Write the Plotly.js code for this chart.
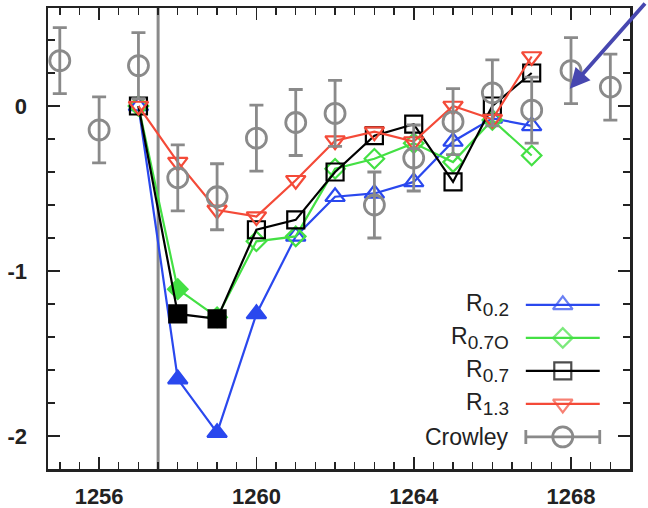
<!DOCTYPE html>
<html>
<head>
<meta charset="utf-8">
<script src="https://cdn.plot.ly/plotly-3.0.1.min.js"></script>
<style>html,body{margin:0;padding:0;background:#fff;}#chart{width:648px;height:508px;}</style>
</head>
<body>
<div id="chart"></div>
<script>
// ---- data ----
const years = [1257, 1258, 1259, 1260, 1261, 1262, 1263, 1264, 1265, 1266, 1267];
const r02  = [0, -1.655, -1.98, -1.26, -0.79, -0.55, -0.53, -0.46, -0.215, -0.075, -0.12];
const r07O = [0, -1.11, -1.28, -0.82, -0.79, -0.38, -0.32, -0.225, -0.34, -0.085, -0.30];
const r07  = [0, -1.26, -1.29, -0.75, -0.69, -0.40, -0.18, -0.11, -0.46, 0.0, 0.20];
const r13  = [0, -0.34, -0.63, -0.67, -0.45, -0.21, -0.155, -0.215, 0.0, -0.08, 0.30];
const filledR02  = [1258, 1259, 1260];
const filledR07O = [1258, 1259];
const filledR07  = [1258, 1259];
const filledR13  = [];
const crowleyYears = [1255, 1256, 1257, 1258, 1259, 1260, 1261, 1262, 1263, 1264, 1265, 1266, 1267, 1268, 1269];
const crowley      = [0.275, -0.145, 0.245, -0.435, -0.55, -0.195, -0.10, -0.045, -0.60, -0.315, -0.095, 0.08, -0.025, 0.215, 0.115];
const crowleyErr   = [0.2, 0.2, 0.2, 0.2, 0.2, 0.2, 0.2, 0.2, 0.2, 0.2, 0.2, 0.2, 0.2, 0.2, 0.2];
const eruptionYear = 1257.5;
const arrowTarget = {x: 1267.97, y: 0.105};
const legendBase = ['R', 'R', 'R', 'R', 'Crowley'];
const legendSubs = ['0.2', '0.7O', '0.7', '1.3', ''];
const xTicks = [1256, 1260, 1264, 1268];
const yTicks = [-2, -1, 0];

// ---- styles ----
const series = [
  {y: r02,  filled: filledR02,  color: '#2a48ee', sym: 'triangle-up',   size: 17},
  {y: r07O, filled: filledR07O, color: '#44e044', sym: 'diamond',       size: 15},
  {y: r07,  filled: filledR07,  color: '#000000', sym: 'square',        size: 17},
  {y: r13,  filled: filledR13,  color: '#f44a38', sym: 'triangle-down', size: 17}
];
const gray = '#8a8a8a';
const font = 'Liberation Sans, Arial, Helvetica, sans-serif';

const traces = [];
series.forEach(s => {
  traces.push({
    x: years, y: s.y, type: 'scatter', mode: 'lines+markers',
    line: {color: s.color, width: 2.2},
    marker: {
      symbol: years.map(yr => s.filled.includes(yr) ? s.sym : s.sym + '-open'),
      size: s.size, color: s.color, line: {color: s.color, width: 2.2}
    },
    cliponaxis: false, showlegend: false, hoverinfo: 'skip'
  });
});
traces.push({
  x: crowleyYears, y: crowley, type: 'scatter', mode: 'markers',
  marker: {symbol: 'circle-open', size: 20, color: gray, line: {color: gray, width: 2.8}},
  error_y: {type: 'data', array: crowleyErr, visible: true, color: gray, thickness: 2.8, width: 7},
  cliponaxis: false, showlegend: false, hoverinfo: 'skip'
});

// ---- custom legend (samples right of right-aligned labels), on a hidden paper-like axis ----
const legX0 = 0.821, legX1 = 0.948, legXm = (legX0 + legX1) / 2;
const legTop = 0.356, legStep = 0.0716, legTextX = 0.796;
const annotations = [];
const legendStyles = series.map(s => ({color: s.color, sym: s.sym + '-open', size: s.size}));
legendStyles.push({color: gray, sym: 'circle-open', size: 20});
legendBase.forEach((base, i) => {
  const ly = legTop - i * legStep;
  const st = legendStyles[i];
  if (i < 4) {
    traces.push({
      x: [legX0, legXm, legX1], y: [ly, ly, ly], xaxis: 'x2', yaxis: 'y2',
      type: 'scatter', mode: 'lines+markers',
      line: {color: st.color, width: 2.2},
      marker: {symbol: st.sym, size: [0, st.size, 0], color: st.color, line: {color: st.color, width: 2.2}},
      showlegend: false, hoverinfo: 'skip', cliponaxis: false
    });
  } else {
    traces.push({
      x: [legXm], y: [ly], xaxis: 'x2', yaxis: 'y2',
      type: 'scatter', mode: 'markers',
      marker: {symbol: st.sym, size: st.size, color: st.color, line: {color: st.color, width: 2.8}},
      error_x: {type: 'constant', value: (legX1 - legX0) / 2, visible: true, color: st.color, thickness: 2.8, width: 7},
      showlegend: false, hoverinfo: 'skip', cliponaxis: false
    });
  }
  const txt = legendSubs[i]
    ? base + '<sub><span style="font-size:19px">' + legendSubs[i] + '</span></sub>'
    : base;
  annotations.push({
    xref: 'paper', yref: 'paper', x: legTextX, y: ly, xanchor: 'right', yanchor: 'middle',
    text: txt, showarrow: false, font: {family: font, size: 23, color: '#222'}
  });
});

annotations.push({
  xref: 'x', yref: 'y', x: arrowTarget.x, y: arrowTarget.y, text: ' ',
  showarrow: true, axref: 'pixel', ayref: 'pixel', ax: 82, ay: -97,
  arrowcolor: '#4747b0', arrowwidth: 3.8, arrowhead: 2, arrowsize: 1.05, standoff: 0
});

const axisCommon = {
  showgrid: false, zeroline: false, showline: true, linecolor: '#222', linewidth: 2.5,
  mirror: 'ticks', ticks: 'inside', ticklen: 12, tickwidth: 1.6, tickcolor: '#222',
  tickfont: {family: font, size: 22, color: '#222', weight: 'bold'}
};

const layout = {
  width: 648, height: 508,
  margin: {l: 48, r: 18, t: 8, b: 39},
  paper_bgcolor: '#fff', plot_bgcolor: '#fff',
  showlegend: false,
  xaxis: Object.assign({}, axisCommon, {
    range: [1254.7, 1269.5], tickmode: 'array', tickvals: xTicks, ticktext: xTicks.map(String),
    ticklabelstandoff: 6,
    minor: {dtick: 0.5, tick0: 1254, ticks: 'inside', ticklen: 7, tickwidth: 1.4, tickcolor: '#222', showgrid: false}
  }),
  yaxis: Object.assign({}, axisCommon, {
    range: [-2.2, 0.594], tickmode: 'array', tickvals: yTicks, ticktext: yTicks.map(String),
    ticklabelstandoff: 14,
    minor: {dtick: 0.2, tick0: 0, ticks: 'inside', ticklen: 7, tickwidth: 1.4, tickcolor: '#222', showgrid: false}
  }),
  xaxis2: {domain: [0, 1], range: [0, 1], visible: false, anchor: 'y2', overlaying: 'x'},
  yaxis2: {domain: [0, 1], range: [0, 1], visible: false, anchor: 'x2', overlaying: 'y'},
  shapes: [{
    type: 'line', xref: 'x', yref: 'paper', x0: eruptionYear, x1: eruptionYear, y0: 0, y1: 1,
    line: {color: gray, width: 3}, layer: 'below'
  }],
  annotations: annotations
};

Plotly.newPlot('chart', traces, layout, {staticPlot: true, displayModeBar: false});
</script>
</body>
</html>
